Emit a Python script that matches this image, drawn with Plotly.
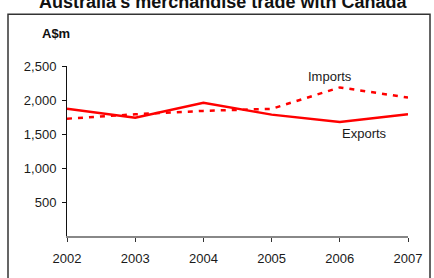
import plotly.graph_objects as go

years = [2002, 2003, 2004, 2005, 2006, 2007]
exports = [1870, 1740, 1960, 1785, 1675, 1790]
imports = [1725, 1790, 1840, 1870, 2185, 2035]
y_ticks = [500, 1000, 1500, 2000, 2500]
y_tick_labels = ["500", "1,000", "1,500", "2,000", "2,500"]

fig = go.Figure()
fig.add_trace(go.Scatter(x=years, y=exports, mode="lines", name="Exports",
                         line=dict(color="#FF0000", width=2.5)))
fig.add_trace(go.Scatter(x=years, y=imports, mode="lines", name="Imports",
                         line=dict(color="#FF0000", width=2.5, dash="5px,6px")))

W, H = 434, 278
L, R, T, B = 67, 26, 66, 35
pw, ph = W - L - R, H - T - B

def px(xp):
    return (xp - L) / pw

def py(yp):
    return (H - B - yp) / ph

fig.update_layout(
    width=W, height=H,
    margin=dict(l=L, r=R, t=T, b=B),
    paper_bgcolor="white", plot_bgcolor="white",
    showlegend=False,
    font=dict(family="Liberation Sans, Arial", size=13, color="#1a1a1a"),
    xaxis=dict(range=[2002, 2007], tickvals=years, ticktext=[str(y) for y in years],
               showgrid=False, zeroline=False, showline=True, linecolor="#888888",
               linewidth=1.5, ticks="outside", ticklen=4, tickcolor="#333333",
               tickfont=dict(size=13), ticklabelstandoff=6),
    yaxis=dict(range=[0, 2500], tickvals=y_ticks, ticktext=y_tick_labels,
               showgrid=False, zeroline=False, showline=True, linecolor="#111111",
               linewidth=1, ticks="outside", ticklen=4, tickcolor="#111111",
               tickfont=dict(size=13), ticklabelstandoff=3),
    annotations=[
        dict(text="<b>Australia's merchandise trade with Canada</b>", x=px(223), y=py(-1),
             xref="paper", yref="paper", showarrow=False,
             font=dict(size=18, color="#111111"), xanchor="center", yanchor="middle"),
        dict(text="<b>A$m</b>", x=px(40), y=py(32), xref="paper", yref="paper",
             showarrow=False, font=dict(size=13, color="#111111"),
             xanchor="left", yanchor="middle"),
        dict(text="Imports", x=2005.856, y=2343, showarrow=False,
             font=dict(size=13, color="#1a1a1a")),
        dict(text="Exports", x=2006.36, y=1508, showarrow=False,
             font=dict(size=13, color="#1a1a1a")),
    ],
    shapes=[
        dict(type="rect", xref="paper", yref="paper",
             x0=px(8), x1=px(430), y0=py(300), y1=py(12),
             line=dict(color="#333333", width=1.5), fillcolor="rgba(0,0,0,0)",
             layer="below"),
    ],
)

fig.write_html("out.html", config={"displayModeBar": False},
               post_script="document.body.style.margin='0';document.body.style.overflow='hidden';")
